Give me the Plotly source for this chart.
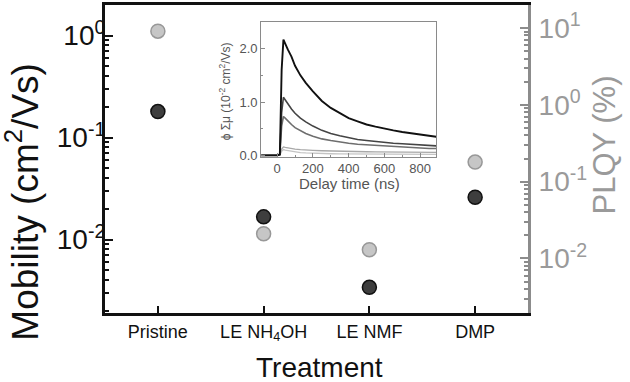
import plotly.graph_objects as go

# ---- main data ----
treatments = ["Pristine", "LE NH<sub>4</sub>OH", "LE NMF", "DMP"]
mobility = [0.18, 0.0167, 0.0034, 0.026]      # cm^2/Vs (left axis)
plqy = [9.1, 0.021, 0.013, 0.18]              # % (right axis)

left_tickvals = [0.01, 0.1, 1]
left_ticktext = ["10<sup>-2</sup>", "10<sup>-1</sup>", "10<sup>0</sup>"]
right_tickvals = [0.01, 0.1, 1, 10]
right_ticktext = ["10<sup>-2</sup>", "10<sup>-1</sup>", "10<sup>0</sup>", "10<sup>1</sup>"]

# ---- inset data (delay time, ns) ----
delay_ns = [-90, 0, 15, 25, 35, 45, 60, 80, 100, 130, 160, 200, 250, 300, 350,
            400, 450, 500, 550, 600, 650, 700, 750, 800, 850, 890]
trace_black = [0, 0, 0.02, 1.6, 2.17, 2.08, 1.98, 1.85, 1.68, 1.50, 1.36, 1.20, 1.02, 0.89, 0.79,
               0.70, 0.64, 0.58, 0.54, 0.50, 0.47, 0.44, 0.42, 0.40, 0.37, 0.35]
trace_dark = [0, 0, 0.02, 0.8, 1.09, 1.04, 0.96, 0.87, 0.79, 0.70, 0.63, 0.55, 0.47, 0.41, 0.37,
              0.33, 0.30, 0.28, 0.26, 0.24, 0.23, 0.22, 0.21, 0.20, 0.19, 0.18]
trace_mid = [0, 0, 0.01, 0.55, 0.73, 0.70, 0.64, 0.58, 0.52, 0.46, 0.41, 0.36, 0.31, 0.28, 0.25,
             0.23, 0.21, 0.20, 0.18, 0.17, 0.16, 0.15, 0.145, 0.14, 0.13, 0.13]
trace_light1 = [0, 0, 0.01, 0.12, 0.16, 0.15, 0.14, 0.13, 0.12, 0.11, 0.10, 0.095, 0.088, 0.082, 0.078,
                0.075, 0.072, 0.07, 0.068, 0.066, 0.064, 0.062, 0.061, 0.06, 0.059, 0.058]
trace_light2 = [0, 0, 0.005, 0.08, 0.11, 0.10, 0.09, 0.075, 0.065, 0.055, 0.048, 0.04, 0.036, 0.032, 0.03,
                0.028, 0.026, 0.025, 0.024, 0.023, 0.022, 0.022, 0.021, 0.021, 0.02, 0.02]

FONT = "Liberation Sans, Arial, sans-serif"
GREY_AX = "#8c8c8c"
GREY_TXT = "#9a9a9a"

fig = go.Figure()

fig.add_trace(go.Scatter(
    x=treatments, y=plqy, yaxis="y2", mode="markers", showlegend=False,
    marker=dict(size=14, color="#c6c6c6", line=dict(color="#989898", width=1.5))))
fig.add_trace(go.Scatter(
    x=treatments, y=mobility, mode="markers", showlegend=False,
    marker=dict(size=14, color="#3e3e3e", line=dict(color="#111111", width=1.5))))

inset_series = [
    (trace_light2, "#c4c4c4", 1.3),
    (trace_light1, "#a8a8a8", 1.3),
    (trace_mid, "#6e6e6e", 1.6),
    (trace_dark, "#444444", 1.6),
    (trace_black, "#111111", 1.9),
]
for vals, col, w in inset_series:
    fig.add_trace(go.Scatter(x=delay_ns, y=vals, xaxis="x3", yaxis="y3", mode="lines",
                             line=dict(color=col, width=w), showlegend=False))

fig.update_layout(
    width=630, height=382,
    margin=dict(l=105, r=102, t=2, b=69),
    paper_bgcolor="white", plot_bgcolor="white",
    font=dict(family=FONT, color="#111111"),
    xaxis=dict(type="category", range=[-0.5, 3.5], showgrid=False, zeroline=False,
               showline=True, linecolor="#111111", linewidth=3, mirror=True,
               ticks="inside", ticklen=7, tickwidth=2, tickcolor="#111111",
               tickfont=dict(size=18, color="#111111")),
    yaxis=dict(type="log", range=[-2.72, 0.30], showgrid=False, zeroline=False,
               showline=True, linecolor="#111111", linewidth=3,
               tickvals=left_tickvals, ticktext=left_ticktext,
               ticks="inside", ticklen=8, tickwidth=2, tickcolor="#111111",
               ticklabelstandoff=-9,
               minor=dict(ticks="inside", ticklen=4, tickwidth=1.5, tickcolor="#111111",
                          dtick="D1", showgrid=False),
               tickfont=dict(size=28, color="#111111")),
    yaxis2=dict(type="log", range=[-2.71, 1.30], overlaying="y", side="right",
                showgrid=False, zeroline=False,
                showline=True, linecolor=GREY_AX, linewidth=3,
                tickvals=right_tickvals, ticktext=right_ticktext,
                ticks="inside", ticklen=8, tickwidth=2, tickcolor=GREY_AX,
                ticklabelstandoff=2,
                minor=dict(ticks="inside", ticklen=4, tickwidth=1.5, tickcolor=GREY_AX,
                           dtick="D1", showgrid=False),
                tickfont=dict(size=28, color=GREY_TXT)),
    xaxis3=dict(domain=[0.369, 0.783], anchor="y3", range=[-90, 890],
                showgrid=False, zeroline=False, showline=True, mirror=True,
                linecolor="#8a8a8a", linewidth=1,
                dtick=200, tick0=0, ticks="inside", ticklen=4, tickcolor="#8a8a8a",
                minor=dict(ticks="inside", ticklen=2, dtick=100, tickcolor="#8a8a8a"),
                tickfont=dict(size=13, color="#555555")),
    yaxis3=dict(domain=[0.508, 0.945], anchor="x3", range=[-0.02, 2.5],
                showgrid=False, zeroline=False, showline=True, mirror=True,
                linecolor="#8a8a8a", linewidth=1,
                tickvals=[0, 1, 2], ticktext=["0.0", "1.0", "2.0"],
                ticks="inside", ticklen=4, tickcolor="#8a8a8a",
                minor=dict(ticks="inside", ticklen=2, dtick=0.5, tickcolor="#8a8a8a"),
                tickfont=dict(size=13, color="#555555")),
)

annotations = [
    dict(text="Mobility (cm<sup>2</sup>/Vs)", x=-0.195, y=0.36, textangle=-90,
         font=dict(size=37, color="#111111")),
    dict(text="PLQY (%)", x=1.182, y=0.547, textangle=-90,
         font=dict(size=31, color=GREY_TXT)),
    dict(text="Treatment", x=0.506, y=-0.177,
         font=dict(size=28, color="#111111")),
    dict(text="Delay time (ns)", x=0.579, y=0.42,
         font=dict(size=15, color="#555555")),
    dict(text="\u03d5 \u03a3\u03bc (10<sup>-2</sup> cm<sup>2</sup>/Vs)", x=0.284, y=0.72,
         textangle=-90, font=dict(size=12, color="#555555")),
]
for a in annotations:
    a.update(xref="paper", yref="paper", showarrow=False, xanchor="center", yanchor="middle")
fig.update_layout(annotations=annotations)

fig.write_html("out.html", config={"displayModeBar": False},
               post_script="document.body.style.margin='0';document.body.style.padding='0';")
